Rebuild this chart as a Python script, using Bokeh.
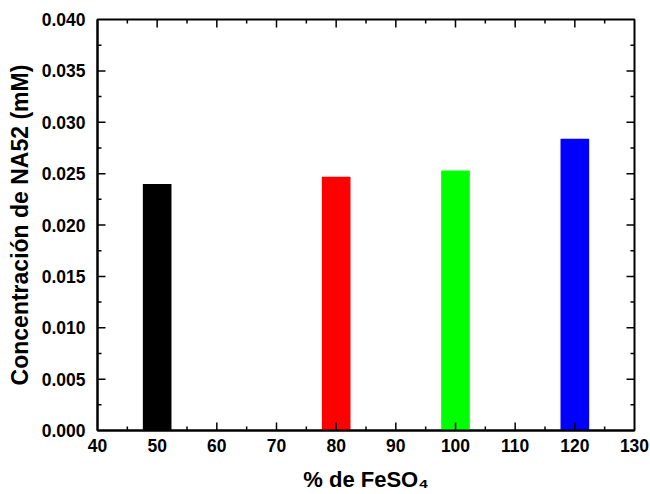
import math
from bokeh.plotting import figure
from bokeh.models import Range1d, FixedTicker, PrintfTickFormatter
from bokeh.embed import file_html
from bokeh.resources import INLINE

feso4 = [50, 80, 100, 120]
conc = [0.0240, 0.0247, 0.0253, 0.0284]
colors = ["#000000", "#ff0000", "#00ff00", "#0000ff"]
x_ticks = [40, 50, 60, 70, 80, 90, 100, 110, 120, 130]
x_minor = [45, 55, 65, 75, 85, 95, 105, 115, 125]
y_ticks = [0.000, 0.005, 0.010, 0.015, 0.020, 0.025, 0.030, 0.035, 0.040]
y_minor = [0.0025, 0.0075, 0.0125, 0.0175, 0.0225, 0.0275, 0.0325, 0.0375]

FONT = "Liberation Sans"
X0, X1 = 40, 130
Y0, Y1 = 0.0, 0.040

p = figure(width=650, height=494, output_backend="svg", toolbar_location=None,
           x_range=Range1d(X0, X1), y_range=Range1d(Y0, Y1),
           min_border_left=97, min_border_top=19, min_border_right=16, min_border_bottom=63,
           x_axis_label="% de FeSO₄", y_axis_label="Concentración de NA52 (mM)")

p.vbar(x=feso4, top=conc, width=4.8, color=colors, line_color=None)

p.xgrid.visible = False
p.ygrid.visible = False
p.outline_line_color = "black"
p.outline_line_width = 2
p.background_fill_color = "white"
p.border_fill_color = "white"

for ax in (p.xaxis[0], p.yaxis[0]):
    ax.axis_line_width = 2
    ax.axis_line_color = "black"
    ax.major_tick_in = 0
    ax.major_tick_out = 0
    ax.minor_tick_in = 0
    ax.minor_tick_out = 0
    ax.major_label_text_font = FONT
    ax.major_label_text_font_style = "bold"
    ax.major_label_text_font_size = "17.5px"
    ax.major_label_text_color = "black"
    ax.axis_label_text_font = FONT
    ax.axis_label_text_font_style = "bold"
    ax.axis_label_text_color = "black"

p.xaxis.ticker = FixedTicker(ticks=x_ticks, minor_ticks=x_minor)
p.yaxis.ticker = FixedTicker(ticks=y_ticks, minor_ticks=y_minor)
p.yaxis.formatter = PrintfTickFormatter(format="%.3f")
p.xaxis.major_label_standoff = 8
p.yaxis.major_label_standoff = 12
p.xaxis.axis_label_standoff = 12
p.yaxis.axis_label_standoff = 6
p.xaxis.axis_label_text_font_size = "22px"
p.yaxis.axis_label_text_font_size = "23px"

# inward ticks on all four sides, drawn as screen-length rays
TW = 1.5
def ticks(xs, ys, angle, length):
    p.ray(x=xs, y=ys, length=length, length_units="screen", angle=angle,
          line_color="black", line_width=TW)

inner_x = x_ticks[1:-1]
inner_y = y_ticks[1:-1]
ticks(inner_x, [Y0] * len(inner_x), math.pi / 2, 8)
ticks(inner_x, [Y1] * len(inner_x), -math.pi / 2, 8)
ticks(x_minor, [Y0] * len(x_minor), math.pi / 2, 4)
ticks(x_minor, [Y1] * len(x_minor), -math.pi / 2, 4)
ticks([X0] * len(inner_y), inner_y, 0, 8)
ticks([X1] * len(inner_y), inner_y, math.pi, 8)
ticks([X0] * len(y_minor), y_minor, 0, 4)
ticks([X1] * len(y_minor), y_minor, math.pi, 4)

open("out.html", "w").write(file_html(p, INLINE))
